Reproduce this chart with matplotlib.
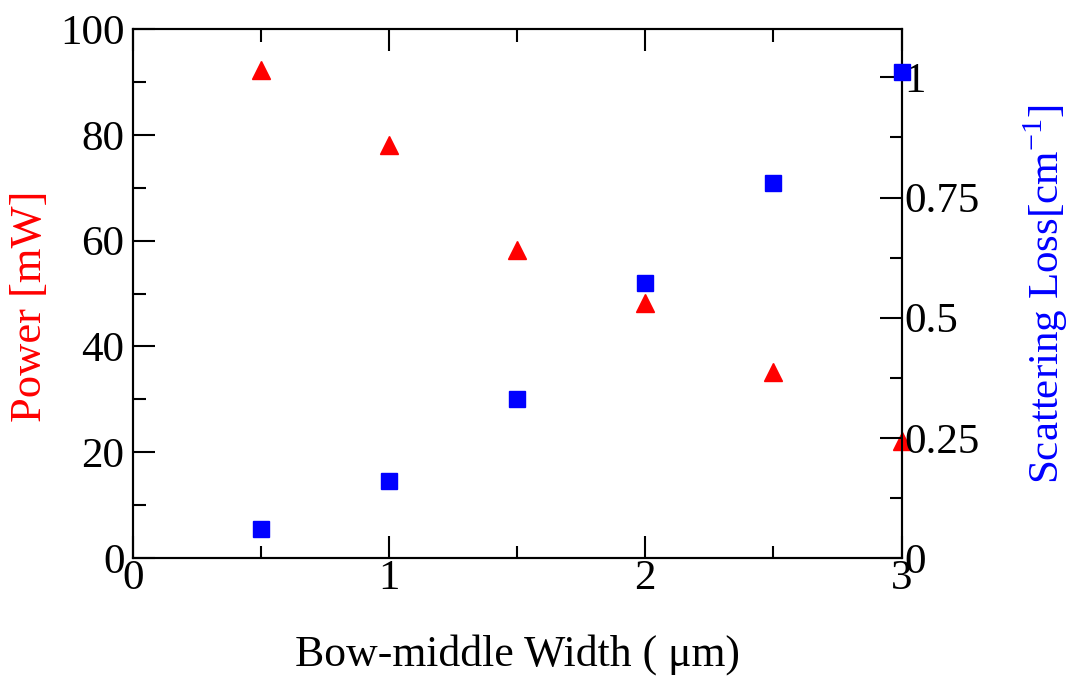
import matplotlib as mpl
mpl.use('Agg')
import matplotlib.pyplot as plt
from matplotlib.ticker import MultipleLocator

mpl.rcParams['font.family'] = 'Liberation Serif'
mpl.rcParams['mathtext.fontset'] = 'custom'
mpl.rcParams['mathtext.rm'] = 'Liberation Serif'
mpl.rcParams['axes.linewidth'] = 1.5

# data
width = [0.5, 1.0, 1.5, 2.0, 2.5, 3.0]
power = [92.3, 78.2, 58.3, 48.2, 35.2, 22.2]
loss = [0.060, 0.160, 0.330, 0.572, 0.780, 1.011]

fig = plt.figure(figsize=(10.72, 6.82), dpi=100)
ax1 = fig.add_axes([0.124, 0.182, 0.717, 0.775])
ax2 = ax1.twinx()

ax1.plot(width, power, linestyle='none', marker='^', color='red',
         markersize=13, clip_on=False, zorder=5)
ax2.plot(width, loss, linestyle='none', marker='s', color='blue',
         markersize=11, clip_on=False, zorder=5)

ax1.set_xlim(0, 3)
ax1.set_ylim(0, 100)
ax2.set_ylim(0, 1.1)

ax1.xaxis.set_major_locator(MultipleLocator(1))
ax1.xaxis.set_minor_locator(MultipleLocator(0.5))
ax1.yaxis.set_major_locator(MultipleLocator(20))
ax1.yaxis.set_minor_locator(MultipleLocator(10))
ax2.set_yticks([0, 0.25, 0.5, 0.75, 1])
ax2.set_yticklabels(['0', '0.25', '0.5', '0.75', '1'])
ax2.yaxis.set_minor_locator(MultipleLocator(0.125))

ax1.tick_params(axis='x', which='both', direction='in', top=True, labelsize=31, pad=1)
ax1.tick_params(axis='y', which='both', direction='in', labelsize=31, pad=6)
ax1.tick_params(which='major', length=16, width=1.5)
ax1.tick_params(which='minor', length=9, width=1.5)
ax2.tick_params(axis='y', which='both', direction='in', labelsize=31, pad=2)
ax2.tick_params(which='major', length=16, width=1.5)
ax2.tick_params(which='minor', length=9, width=1.5)

ax1.set_xlabel('Bow-middle Width ( \u03bcm)', fontsize=31.5, labelpad=26)
ax1.set_ylabel('Power [mW]', fontsize=32, color='red')
ax1.yaxis.set_label_coords(-0.108, 0.476)
ax2.set_ylabel('Scattering Loss[cm$^{-1}$]', fontsize=31, color='blue', labelpad=30)

fig.savefig('out.png', dpi=100)
